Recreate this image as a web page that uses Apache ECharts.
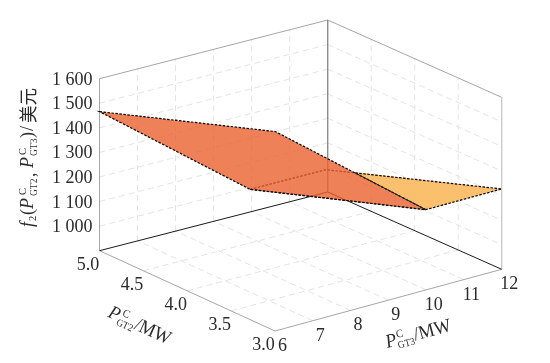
<!DOCTYPE html>
<html><head><meta charset="utf-8">
<style>html,body{margin:0;padding:0;background:#fff}#c{width:550px;height:363px}</style>
<script src="https://cdn.jsdelivr.net/npm/echarts@6/dist/echarts.min.js"></script>
</head><body><div id="c"></div>
<script>
// ---- data ----
const xTicks = [6, 7, 8, 9, 10, 11, 12];            // P_GT3 / MW
const yTicks = [3.0, 3.5, 4.0, 4.5, 5.0];           // P_GT2 / MW
const zTicks = [1000, 1100, 1200, 1300, 1400, 1500, 1600];
const xLabels = ['6', '7', '8', '9', '10', '11', '12'];
const yLabels = ['3.0', '3.5', '4.0', '4.5', '5.0'];
const zLabels = ['1 000', '1 100', '1 200', '1 300', '1 400', '1 500', '1 600'];
const zFloor = 900;
// surface corners as [P_GT3, P_GT2, cost]
const redSurface = [[6, 5, 1466], [10.62, 5, 1201], [10.65, 3.285, 1154], [6, 3.285, 1430]];
const yellowSurface = [[6, 3.285, 1430], [7.35, 3, 1500], [12, 3, 1227], [10.65, 3.285, 1154]];
const yellowVisible = [[10.635, 4.108, 1177], [12, 3, 1227], [10.65, 3.285, 1154]];

// ---- view of the 3D box ----
const view = {
  left: [99.5, 250.7], back: [327.7, 192], right: [501.7, 269.3], front: [275, 331],
  height: 172
};
const xMin = xTicks[0], xMax = xTicks[xTicks.length - 1];
const yMin = yTicks[0], yMax = yTicks[yTicks.length - 1];
const zMax = zTicks[zTicks.length - 1];
function project(p) {
  const u = (p[0] - xMin) / (xMax - xMin), v = (yMax - p[1]) / (yMax - yMin);
  const w = (p[2] - zFloor) / (zMax - zFloor);
  const f = k => (1 - u) * (1 - v) * view.left[k] + u * (1 - v) * view.back[k] + u * v * view.right[k] + (1 - u) * v * view.front[k];
  return [f(0), f(1) - w * view.height];
}
const TEXT = '#2b2b2b', SERIF = '"Liberation Serif","Times New Roman",serif';
const STRETCH = 1.07;

// ---- segments ----
const GRID = { stroke: '#e4e4e4', lineWidth: 1, lineDash: [6, 4] };
const gridSegs = [];
xTicks.slice(1, -1).forEach(x => {
  gridSegs.push([[x, yMin, zFloor], [x, yMax, zFloor]]);
  gridSegs.push([[x, yMax, zFloor], [x, yMax, zMax]]);
});
yTicks.slice(1, -1).forEach(y => {
  gridSegs.push([[xMin, y, zFloor], [xMax, y, zFloor]]);
  gridSegs.push([[xMax, y, zFloor], [xMax, y, zMax]]);
});
zTicks.forEach(z => {
  if (z === zMax) return;
  gridSegs.push([[xMin, yMax, z], [xMax, yMax, z]]);
  gridSegs.push([[xMax, yMax, z], [xMax, yMin, z]]);
});
const edgeSegs = [
  [[xMin, yMax, zMax], [xMax, yMax, zMax], '#a6a6a6', 1],
  [[xMax, yMax, zMax], [xMax, yMin, zMax], '#a6a6a6', 1],
  [[xMin, yMax, zFloor], [xMin, yMax, zMax], '#a6a6a6', 1],
  [[xMax, yMin, zFloor], [xMax, yMin, zMax], '#c4c4c4', 1.2],
  [[xMax, yMax, zFloor], [xMax, yMax, zMax], '#8c8c8c', 1.4],
  [[xMin, yMax, zFloor], [xMin, yMin, zFloor], '#a6a6a6', 1],
  [[xMin, yMin, zFloor], [xMax, yMin, zFloor], '#a6a6a6', 1],
  [[xMin, yMax, zFloor], [xMax, yMax, zFloor], '#1a1a1a', 1],
  [[xMax, yMax, zFloor], [xMax, yMin, zFloor], '#1a1a1a', 1]
];
const tickLabels = [];
xTicks.forEach((x, i) => tickLabels.push([x, yMin, zFloor, xLabels[i], 7.5, 15, 'center']));
yTicks.forEach((y, i) => tickLabels.push([xMin, y, zFloor, yLabels[i], -11.5, 14, 'center']));
zTicks.forEach((z, i) => tickLabels.push([xMin, yMax, z, zLabels[i], -7, 1, 'right']));

const at = (api, p) => api.coord(project(p));
function lineSeries(z, segs, styleOf) {
  return {
    type: 'custom', coordinateSystem: 'cartesian2d', z, silent: true, clip: false,
    data: segs.map(s => [...s[0], ...s[1]]),
    renderItem(params, api) {
      const s = segs[params.dataIndex], a = at(api, s[0]), b = at(api, s[1]);
      return { type: 'line', shape: { x1: a[0], y1: a[1], x2: b[0], y2: b[1] }, style: Object.assign({ fill: null }, styleOf(s)) };
    }
  };
}
function polySeries(z, corners, style) {
  return {
    type: 'custom', coordinateSystem: 'cartesian2d', z, silent: true, clip: false,
    data: corners,
    renderItem(params, api) {
      if (params.dataIndex !== 0) return null;
      return { type: 'polygon', shape: { points: corners.map(p => at(api, p)) }, style };
    }
  };
}
const OUTLINE = { fill: 'none', stroke: '#000', lineWidth: 1.2, lineDash: [2.5, 1.5] };
const series = [
  lineSeries(1, gridSegs, () => GRID),
  lineSeries(2, edgeSegs, s => ({ stroke: s[2], lineWidth: s[3] })),
  polySeries(4, yellowVisible, { fill: '#fbc06e' }),
  polySeries(5, yellowSurface, OUTLINE),
  polySeries(6, redSurface, { fill: 'rgba(234,97,46,0.8)' }),
  polySeries(7, redSurface, OUTLINE),
  lineSeries(8, [[yellowVisible[0], yellowVisible[2]]], () => ({ stroke: '#222', lineWidth: 1 })),
  {
    type: 'custom', coordinateSystem: 'cartesian2d', z: 9, silent: true, clip: false,
    data: tickLabels.map(t => t.slice(0, 3)),
    renderItem(params, api) {
      const t = tickLabels[params.dataIndex], a = at(api, t);
      return { type: 'text', x: a[0] + t[4], y: a[1] + t[5], scaleY: STRETCH,
        style: { x: 0, y: 0, text: t[3], fill: TEXT, font: '18px ' + SERIF, align: t[6], verticalAlign: 'middle' } };
    }
  }
];
const txt = (text, x, y, size, italic, family) => ({
  type: 'text', x, y, scaleY: STRETCH,
  style: { text, fill: TEXT, font: (italic ? 'italic ' : '') + size + 'px ' + (family || SERIF), align: 'left', verticalAlign: 'middle' }
});
const graphic = [
  { type: 'group', x: 28, y: 227, rotation: Math.PI / 2, children: [
    txt('f', 0, 0, 18, true), txt('2', 6, 5, 10.5), txt('(', 12, 0, 18),
    txt('P', 18, 0, 18, true), txt('C', 32, -5, 10.5), txt('GT2', 31, 6, 9.5), txt(',', 50, 2, 18),
    txt('P', 59, 0, 18, true), txt('C', 72, -5, 10.5), txt('GT3', 71, 6, 9.5), txt(')', 89, 0, 18),
    txt('/', 96, 0, 18), txt('美元', 104, 0, 17.5, false, '"Noto Sans CJK SC"')
  ] },
  { type: 'group', x: 109, y: 312, rotation: -0.43, children: [
    txt('P', 0, 0, 18, true), txt('C', 13, -5, 10.5), txt('GT2', 11, 6, 9.5), txt('/MW', 29, 0, 18)
  ] },
  { type: 'group', x: 386, y: 343, rotation: 0.26, children: [
    txt('P', 0, 0, 18, true), txt('C', 12, -5, 10.5), txt('GT3', 11, 6, 9.5), txt('/MW', 29, 0, 18)
  ] }
];
const chart = echarts.init(document.getElementById('c'), null, { renderer: 'canvas' });
chart.setOption({
  animation: false, backgroundColor: '#fff',
  grid: { left: 0, right: 0, top: 0, bottom: 0 },
  xAxis: { type: 'value', min: 0, max: 550, show: false },
  yAxis: { type: 'value', min: 0, max: 363, inverse: true, show: false },
  series, graphic
});
</script></body></html>
